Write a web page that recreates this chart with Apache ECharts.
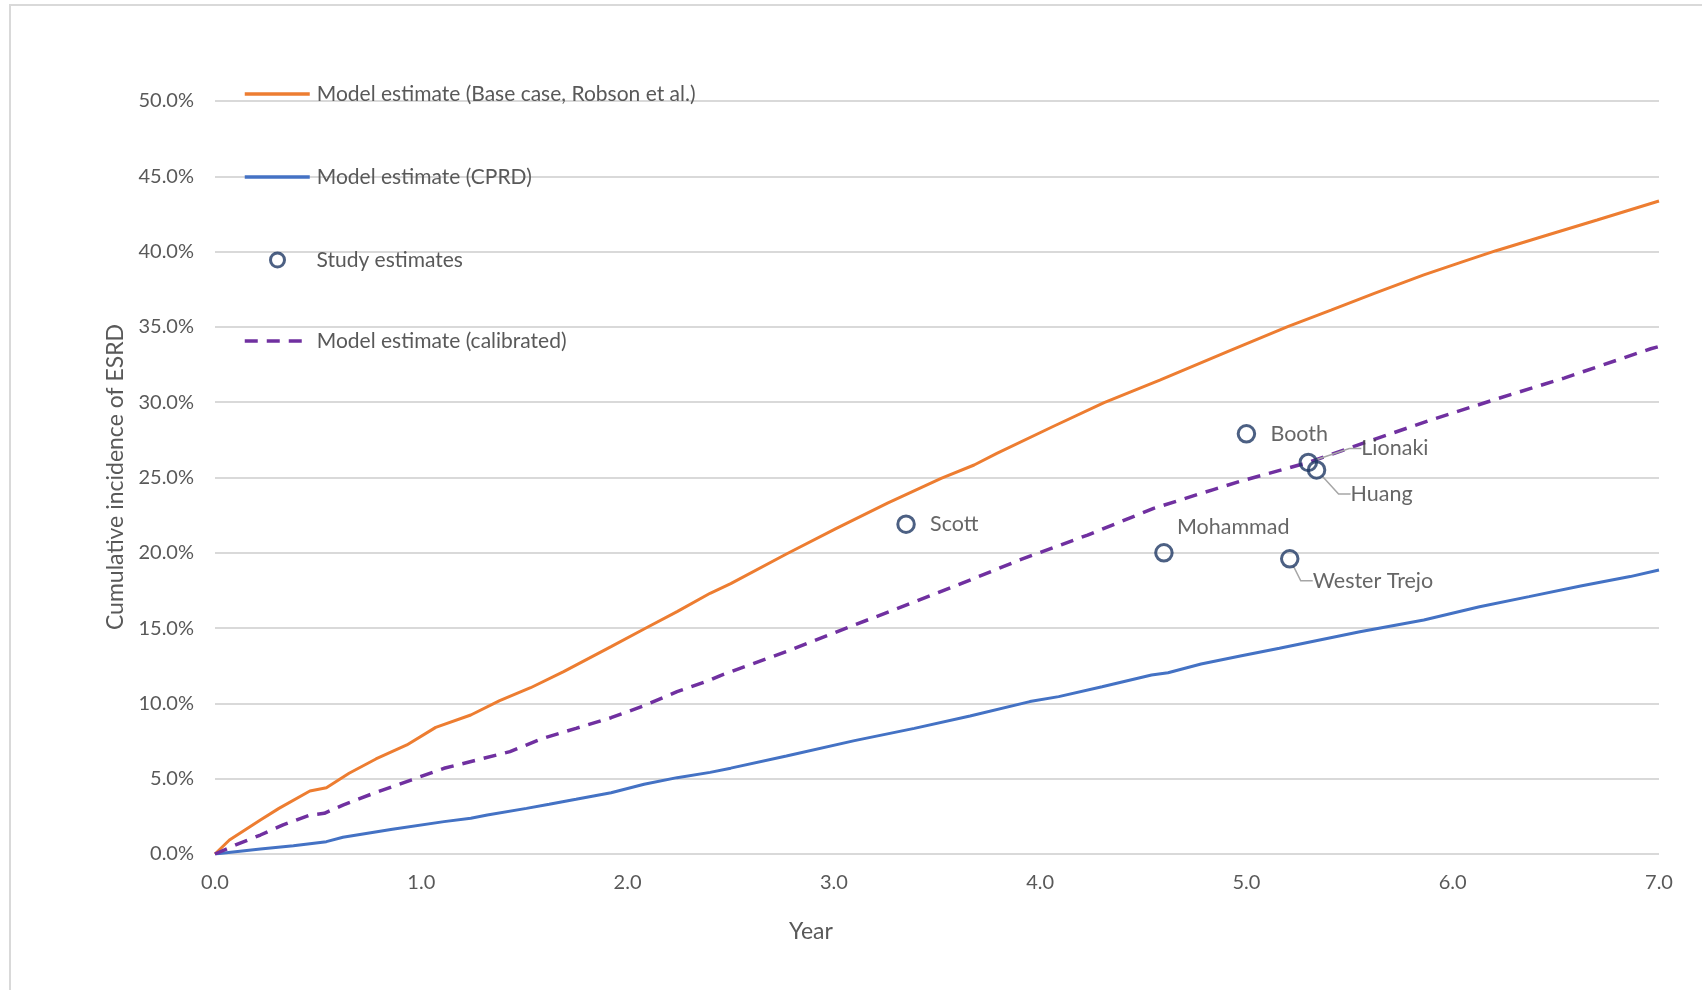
<!DOCTYPE html>
<html>
<head>
<meta charset="utf-8">
<title>Cumulative incidence of ESRD</title>
<script src="https://cdn.jsdelivr.net/npm/echarts@6/dist/echarts.min.js"></script>
<style>
  html, body { margin: 0; padding: 0; background: #ffffff; }
  #chart { width: 1702px; height: 990px; }
</style>
</head>
<body>
<div id="chart"></div>
<script>
// Model curves: years since diagnosis and cumulative ESRD incidence (%)
const baseYears = [0, 0.07, 0.22, 0.31, 0.46, 0.54, 0.65, 0.78, 0.93, 1.07, 1.24, 1.38, 1.53, 1.69, 1.92, 2.08, 2.24, 2.40, 2.50, 2.77, 3.01, 3.26, 3.52, 3.68, 3.79, 4.06, 4.31, 4.58, 4.92, 5.20, 5.41, 5.62, 5.86, 6.05, 6.21, 6.46, 6.70, 7.00];
const baseValues = [0, 0.93, 2.26, 3.03, 4.18, 4.40, 5.36, 6.31, 7.24, 8.41, 9.23, 10.18, 11.04, 12.11, 13.77, 14.94, 16.09, 17.31, 17.95, 19.92, 21.6, 23.3, 24.94, 25.83, 26.6, 28.37, 29.97, 31.47, 33.42, 35.02, 36.12, 37.23, 38.45, 39.33, 40.06, 41.10, 42.10, 43.36];

const cprdYears = [0, 0.22, 0.38, 0.54, 0.62, 0.86, 1.11, 1.24, 1.32, 1.51, 1.62, 1.75, 1.92, 2.08, 2.24, 2.40, 2.50, 2.77, 3.10, 3.39, 3.66, 3.95, 4.09, 4.30, 4.54, 4.62, 4.78, 4.97, 5.16, 5.55, 5.86, 6.13, 6.37, 6.62, 6.86, 7.00];
const cprdValues = [0, 0.33, 0.55, 0.82, 1.11, 1.64, 2.15, 2.37, 2.59, 3.03, 3.30, 3.63, 4.07, 4.63, 5.07, 5.42, 5.70, 6.51, 7.53, 8.34, 9.16, 10.12, 10.45, 11.11, 11.89, 12.04, 12.62, 13.15, 13.66, 14.76, 15.54, 16.42, 17.09, 17.80, 18.42, 18.86];

const calibYears = [0, 0.10, 0.22, 0.33, 0.46, 0.53, 0.62, 0.78, 0.95, 1.11, 1.27, 1.43, 1.59, 1.75, 1.92, 2.08, 2.24, 2.40, 2.45, 2.77, 3.10, 3.29, 3.58, 3.90, 4.23, 4.55, 4.84, 4.97, 5.30, 5.57, 5.89, 6.21, 6.54, 6.96, 7.00];
const calibValues = [0, 0.6, 1.26, 1.93, 2.59, 2.70, 3.25, 4.09, 4.91, 5.69, 6.24, 6.80, 7.68, 8.34, 9.05, 9.85, 10.78, 11.55, 11.85, 13.44, 15.21, 16.2, 17.75, 19.52, 21.18, 22.95, 24.2, 24.75, 26.0, 27.3, 28.8, 30.2, 31.6, 33.55, 33.7];

// Published study estimates
const studyNames = ['Scott', 'Mohammad', 'Booth', 'Lionaki', 'Huang', 'Wester Trejo'];
const studyYears = [3.35, 4.60, 5.00, 5.30, 5.34, 5.21];
const studyValues = [21.9, 20.0, 27.9, 26.0, 25.5, 19.6];

// Axis ticks
const xTicks = { min: 0, max: 7, step: 1 };
const yTicks = { min: 0, max: 50, step: 5 };

// Series names (legend entries)
const NAME_BASE = 'Model estimate (Base case, Robson et al.)';
const NAME_CPRD = 'Model estimate (CPRD)';
const NAME_STUDY = 'Study estimates';
const NAME_CALIB = 'Model estimate (calibrated)';

// Label placement for each study point: text offset from the marker centre, and whether a leader line is drawn
const labelPlacement = {
  'Scott':        { dx: 24, dy: 0,   leader: false },
  'Mohammad':     { dx: 13, dy: -26, leader: false },
  'Booth':        { dx: 24, dy: 0,   leader: false },
  'Lionaki':      { dx: 53, dy: -14, leader: true },
  'Huang':        { dx: 34, dy: 24,  leader: true },
  'Wester Trejo': { dx: 23, dy: 22,  leader: true }
};

const FONT = 'Lato';
const TEXT_GREY = '#595959';
const LABEL_GREY = '#404040';
const GRID_GREY = '#d9d9d9';
const ORANGE = '#ED7D31';
const BLUE = '#4472C4';
const PURPLE = '#7030A0';
const NAVY = '#1F3864';
const LABEL_PAD = 8;
const DASH = [13, 9];

function pairs(xs, ys) {
  return xs.map((x, i) => [x, ys[i]]);
}

const studyData = studyNames.map((name, i) => {
  const p = labelPlacement[name];
  return {
    name: name,
    value: [studyYears[i], studyValues[i]],
    label: {
      show: true,
      position: 'inside',
      align: 'left',
      verticalAlign: 'middle',
      offset: [p.dx - LABEL_PAD, p.dy],
      padding: [2, LABEL_PAD, 2, LABEL_PAD]
    },
    labelLine: { show: p.leader }
  };
});

const chart = echarts.init(document.getElementById('chart'), null, { renderer: 'canvas' });

// Legend row showing only a line sample (the point symbol is hidden)
function lineLegend(name, centerY, lineStyle) {
  return {
    data: [name],
    left: 243,
    top: centerY - 12,
    orient: 'vertical',
    padding: 0,
    itemWidth: 65,
    itemHeight: 14,
    selectedMode: false,
    itemStyle: { opacity: 0 },
    lineStyle: lineStyle,
    textStyle: { fontFamily: FONT, fontSize: 21, color: TEXT_GREY, lineHeight: 24, padding: [0, 0, 0, 2] }
  };
}

const option = {
  animation: false,
  backgroundColor: '#ffffff',
  textStyle: { fontFamily: FONT },
  grid: { left: 215, right: 43, top: 101, bottom: 136, containLabel: false },
  xAxis: {
    type: 'value',
    min: xTicks.min,
    max: xTicks.max,
    interval: xTicks.step,
    axisLine: { show: false },
    axisTick: { show: false },
    splitLine: { show: false },
    axisLabel: {
      margin: 19,
      fontFamily: FONT,
      fontSize: 20,
      color: TEXT_GREY,
      formatter: v => v.toFixed(1)
    }
  },
  yAxis: {
    type: 'value',
    min: yTicks.min,
    max: yTicks.max,
    interval: yTicks.step,
    axisLine: { show: false },
    axisTick: { show: false },
    splitLine: { show: true, lineStyle: { color: GRID_GREY, width: 2 } },
    axisLabel: {
      margin: 21,
      fontFamily: FONT,
      fontSize: 20,
      color: TEXT_GREY,
      formatter: v => v.toFixed(1) + '%'
    }
  },
  legend: [
    lineLegend(NAME_BASE, 94, { color: ORANGE, width: 3.5 }),
    lineLegend(NAME_CPRD, 177, { color: BLUE, width: 3.5 }),
    {
      data: [NAME_STUDY],
      left: 269,
      top: 260 - 12,
      padding: 0,
      itemWidth: 14,
      itemHeight: 14,
      selectedMode: false,
      itemStyle: { color: 'rgba(255,255,255,0)', borderColor: NAVY, borderWidth: 3 },
      textStyle: { fontFamily: FONT, fontSize: 21, color: TEXT_GREY, lineHeight: 24, padding: [0, 0, 0, 27] }
    },
    lineLegend(NAME_CALIB, 341, { color: PURPLE, width: 3.5, type: DASH })
  ],
  graphic: [
    {
      type: 'rect',
      silent: true,
      shape: { x: 10, y: 5, width: 1760, height: 1060 },
      style: { fill: 'none', stroke: GRID_GREY, lineWidth: 2 }
    },
    {
      type: 'text',
      silent: true,
      x: 811,
      y: 932,
      style: { text: 'Year', fontFamily: FONT, fontSize: 23, fill: TEXT_GREY, align: 'center', verticalAlign: 'middle' }
    },
    {
      type: 'text',
      silent: true,
      x: 116,
      y: 477,
      rotation: Math.PI / 2,
      style: { text: 'Cumulative incidence of ESRD', fontFamily: FONT, fontSize: 23, fill: TEXT_GREY, align: 'center', verticalAlign: 'middle' }
    }
  ],
  series: [
    {
      name: NAME_BASE,
      type: 'line',
      data: pairs(baseYears, baseValues),
      symbol: 'none',
      lineStyle: { color: ORANGE, width: 3 },
      itemStyle: { color: ORANGE },
      z: 2
    },
    {
      name: NAME_CPRD,
      type: 'line',
      data: pairs(cprdYears, cprdValues),
      symbol: 'none',
      lineStyle: { color: BLUE, width: 3 },
      itemStyle: { color: BLUE },
      z: 2
    },
    {
      name: NAME_STUDY,
      type: 'scatter',
      data: studyData,
      symbol: 'circle',
      symbolSize: 16.5,
      itemStyle: { color: 'rgba(255,255,255,0)', borderColor: NAVY, borderWidth: 3 },
      label: {
        show: true,
        formatter: '{b}',
        fontFamily: FONT,
        fontSize: 21.5,
        color: LABEL_GREY,
        textBorderWidth: 0
      },
      labelLine: {
        length2: 12,
        lineStyle: { color: '#a6a6a6', width: 1.5 }
      },
      emphasis: { disabled: true },
      z: 4
    },
    {
      name: NAME_CALIB,
      type: 'line',
      data: pairs(calibYears, calibValues),
      symbol: 'none',
      lineStyle: { color: PURPLE, width: 3.5, type: DASH },
      itemStyle: { color: PURPLE },
      z: 3
    }
  ]
};

chart.setOption(option);
</script>
</body>
</html>
